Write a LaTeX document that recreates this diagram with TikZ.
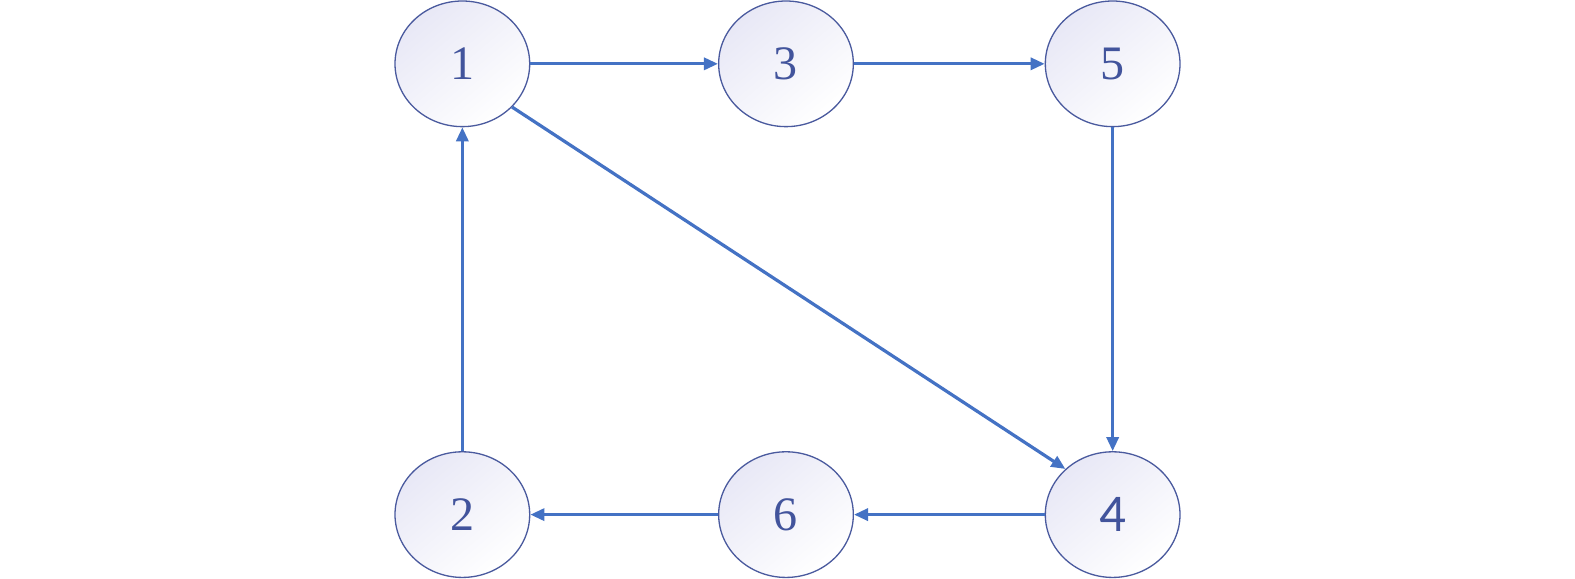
\documentclass[tikz,border=0pt]{standalone}
\usepackage{fontspec}
\setmainfont{Liberation Serif}
\newfontfamily\calfont{Carlito}
\usetikzlibrary{arrows.meta,shapes.geometric}
\definecolor{edgeblue}{HTML}{4472C4}
\definecolor{rimblue}{HTML}{4A5A9E}
\definecolor{lav}{HTML}{E8E8F6}
\definecolor{txtblue}{HTML}{42549C}
\begin{document}
\begin{tikzpicture}[x=1bp,y=-1bp,
  vert/.style={ellipse, draw=rimblue, line width=1.3bp, minimum width=134bp, minimum height=125bp,
    inner sep=0pt, top color=lav, bottom color=white, shading angle=40,
    text=txtblue, font=\fontsize{48}{48}\selectfont},
  conn/.style={draw=edgeblue, line width=3.2bp, -{Triangle[length=14bp,width=12bp]}}]
\useasboundingbox (0,0) rectangle (1567,576);
\node[vert] (n1) at (460,63.5) {1};
\node[vert] (n3) at (782,63.5) {3};
\node[vert] (n5) at (1107,63.5) {5};
\node[vert] (n2) at (460,512) {2};
\node[vert] (n6) at (782,512) {6};
\node[vert, font=\calfont\fontsize{53}{53}\selectfont] (n4) at (1107,512) {4};
\draw[conn] (n1) -- (n3);
\draw[conn] (n3) -- (n5);
\draw[conn] (n5) -- (n4);
\draw[conn] (n1.-41.7) -- (n4.136.8);
\draw[conn] (n4) -- (n6);
\draw[conn] (n6) -- (n2);
\draw[conn] (n2) -- (n1);
\end{tikzpicture}
\end{document}
